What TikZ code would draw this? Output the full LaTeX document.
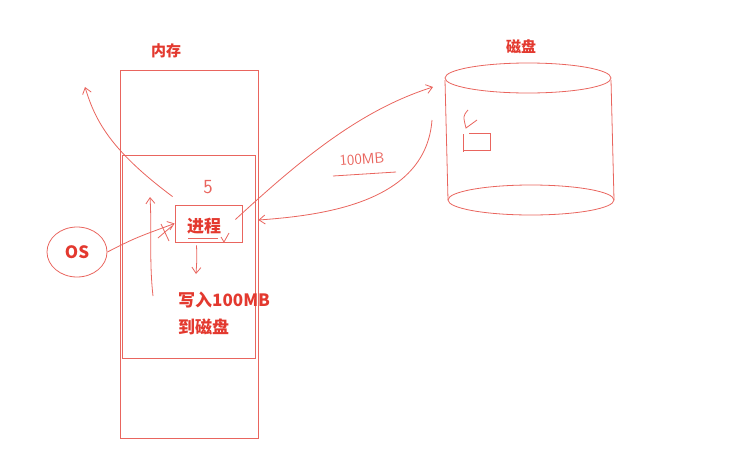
\documentclass[tikz,border=0pt]{standalone}
\usepackage{fontspec}
\usepackage{tikz}
\usetikzlibrary{arrows.meta,positioning,shapes.geometric}
\usepackage{xcolor}
\newfontfamily\cjk{Noto Sans CJK SC}
\definecolor{SketchRed}{HTML}{E9655E}
\definecolor{InkRed}{HTML}{E3392F}
\tikzset{
  pen/.style={draw=SketchRed,line width=0.8pt},
  inktext/.style={text=InkRed,font=\cjk\bfseries\fontsize{17}{19}\selectfont,inner sep=1pt},
  handtext/.style={text=SketchRed,font=\sffamily\fontsize{15}{17}\selectfont,inner sep=1pt},
  barb/.style={-{Straight Barb[length=6pt,width=9pt]}}
}

\begin{document}
\begin{tikzpicture}[x=1pt,y=-1pt]
  \useasboundingbox (0,0) rectangle (739,469);
  % memory
  \node[pen,minimum width=138pt,minimum height=368pt,inner sep=0pt] (mem) at (189,254) {};
  \node[pen,minimum width=133pt,minimum height=203pt,inner sep=0pt] (area) at (188.5,256.5) {};
  \node[inktext,font=\cjk\bfseries\fontsize{15}{17}\selectfont] (memtitle) at (166,51) {内存};
  % process
  \node[pen,minimum width=67pt,minimum height=37pt,inner sep=0pt] (proc) at (208.5,223.5) {};
  \node[inktext] (proctext) at (204,226) {进程};
  \draw[pen] (188,238) -- (218,238);
  \draw[pen] (221,237) -- (224,242) -- (229,233);
  \node[handtext,font=\sffamily\fontsize{20}{22}\selectfont] (five) at (208,187) {5};
  % os
  \node[pen,ellipse,minimum width=60pt,minimum height=50pt,inktext] (os) at (77,252) {OS};
  \coordinate (cross) at (165,232);
  \draw[pen,barb] (os.east) .. controls (135,238) .. (proc.west);
  \draw[pen] (161,224) -- (169,241) (158,238) -- (172,226);
  % stack arrows
  \coordinate (upfoot) at (153,296);
  \coordinate (uphead) at (150,197);
  \draw[pen,barb] (upfoot) .. controls (149,260) and (152,230) .. (uphead);
  \coordinate (outhead) at (85,87);
  \draw[pen,barb] (proc.north west) ++(-2,-8) .. controls (110,150) and (95,120) .. (outhead);
  \coordinate (downhead) at (196,274);
  \draw[pen,barb] (proc.south) ++(-12,3) .. controls (197,258) .. (downhead);
  \node[inktext,anchor=west] (write) at (177,300) {写入100MB};
  \node[inktext,anchor=west] (todisk) at (177,327) {到磁盘};
  % disk
  \node[inktext,font=\cjk\bfseries\fontsize{15}{17}\selectfont] (disktitle) at (521,47) {磁盘};
  \draw[pen] (528,78) ellipse [x radius=83, y radius=15];
  \draw[pen] (445,80) -- (448,200) (611,80) -- (614,200);
  \draw[pen] (531,200) ellipse [x radius=83, y radius=15];
  \draw[pen] (463,134) -- (463,152) (463,150) -- (490,150) -- (490,133) -- (469,133);
  \draw[pen] (468,110) .. controls (463,116) .. (466,128) -- (477,120);
  % transfer
  \coordinate (diskin) at (433,87);
  \coordinate (diskout) at (432,120);
  \draw[pen,barb] (proc.east) ++(-7,-4) .. controls (300,160) and (360,110) .. (diskin);
  \draw[pen,barb] (diskout) .. controls (426,200) and (330,215) .. (mem.east |- 0,220);
  \node[handtext,rotate=4] (size) at (362,159) {100MB};
  \draw[pen] (333,176) -- (396,172);
\end{tikzpicture}
\end{document}
